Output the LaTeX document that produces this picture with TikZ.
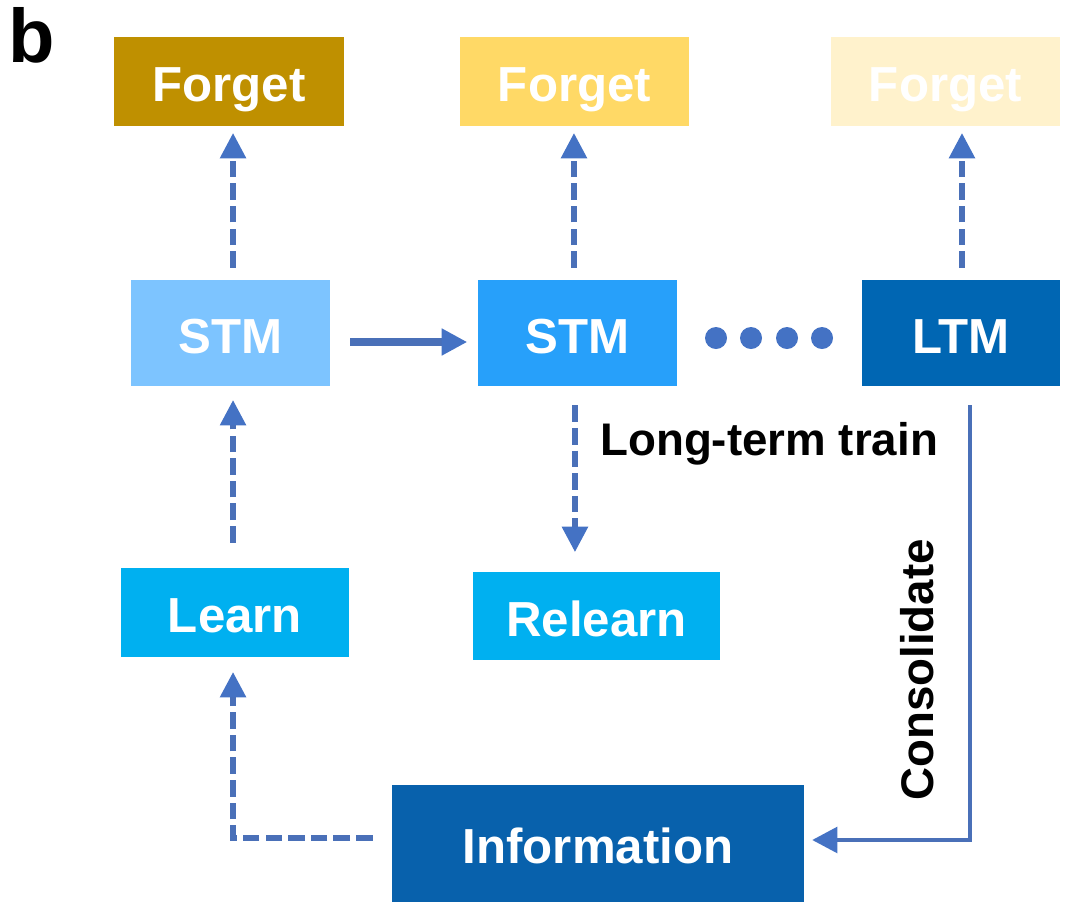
\documentclass[tikz,border=0pt]{standalone}
\usepackage{fontspec}
\setmainfont{Liberation Sans}
\usetikzlibrary{arrows.meta,calc}
\definecolor{goldF}{HTML}{BF9000}
\definecolor{yellowF}{HTML}{FFD966}
\definecolor{creamF}{HTML}{FFF2CC}
\definecolor{skySTM}{HTML}{7DC4FF}
\definecolor{midSTM}{HTML}{27A0FA}
\definecolor{deepLTM}{HTML}{0066B3}
\definecolor{cyanL}{HTML}{00B0F0}
\definecolor{infoB}{HTML}{0861AC}
\definecolor{lineB}{HTML}{4A70B8}
\definecolor{headB}{HTML}{4472C4}
\begin{document}
\begin{tikzpicture}[x=0.025cm, y=-0.025cm,
    box/.style={inner sep=0pt, text=white, text height=28.6pt, text depth=0pt,
      font=\bfseries\fontsize{35}{40}\selectfont},
    lbl/.style={inner sep=0pt, font=\bfseries\fontsize{32.5}{38}\selectfont},
    dline/.style={draw=lineB, line width=4.4pt, dash pattern=on 11.8pt off 4.3pt,
      -{Triangle[length=17.8pt, width=19pt, fill=headB, line width=0pt]}},
    sline/.style={draw=lineB, line width=3.5pt,
      -{Triangle[length=17.8pt, width=19pt, fill=headB, line width=0pt]}}]
  \useasboundingbox (0,0) rectangle (1080,923);
  \node[inner sep=0pt, font=\bfseries\fontsize{54}{60}\selectfont] (tag) at (32,35) {b};
  % forget row
  \node[box, fill=goldF, minimum width=5.75cm, minimum height=2.225cm] (forgetA) at (229,81.5) {Forget};
  \node[box, fill=yellowF, minimum width=5.725cm, minimum height=2.225cm] (forgetB) at (574.5,81.5) {Forget};
  \node[box, fill=creamF, minimum width=5.725cm, minimum height=2.225cm] (forgetC) at (945.5,81.5) {Forget};
  % memory row
  \node[box, fill=skySTM, minimum width=4.975cm, minimum height=2.65cm] (stmA) at (230.5,333) {STM};
  \node[box, fill=midSTM, minimum width=4.975cm, minimum height=2.65cm] (stmB) at (577.5,333) {STM};
  \node[box, fill=deepLTM, minimum width=4.95cm, minimum height=2.65cm] (ltm) at (961,333) {LTM};
  \foreach \i/\x in {1/716, 2/751, 3/787, 4/822}
    \node[circle, fill=headB, inner sep=0pt, minimum size=0.55cm] (dot\i) at (\x,338) {};
  % learning row
  \node[box, fill=cyanL, minimum width=5.7cm, minimum height=2.225cm] (learn) at (235,612.5) {Learn};
  \node[box, fill=cyanL, minimum width=6.175cm, minimum height=2.2cm] (relearn) at (596.5,616) {Relearn};
  \node[box, fill=infoB, minimum width=10.3cm, minimum height=2.925cm] (info) at (598,843.5) {Information};
  % labels
  \node[lbl, anchor=base west] (train) at (600,455) {Long-term train};
  \node[lbl, rotate=90] (consol) at (917,670) {Consolidate};
  % connectors
  \draw[dline, shorten <=8.5pt, shorten >=5pt] ([xshift=1.8pt]stmA.north) -- ([xshift=1.8pt]stmA.north |- forgetA.south);
  \draw[dline, shorten <=8.5pt, shorten >=5pt] ([xshift=-2.5pt]stmB.north) -- ([xshift=-2.5pt]stmB.north |- forgetB.south);
  \draw[dline, shorten <=8.5pt, shorten >=5pt] ([xshift=0.7pt]ltm.north) -- ([xshift=0.7pt]ltm.north |- forgetC.south);
  \draw[sline, line width=5.7pt, -{Triangle[length=17.8pt, width=19.5pt, fill=headB, line width=0pt]}, shorten <=14.2pt, shorten >=7.8pt]
    ([yshift=-6.4pt]stmA.east) -- ([yshift=-6.4pt]stmB.west);
  \draw[dline, shorten <=13.5pt, shorten >=14.2pt] ([xshift=-1.8pt]stmB.south) -- ([xshift=-1.8pt]stmB.south |- relearn.north);
  \draw[dline, shorten <=17.8pt, shorten >=10pt] ([xshift=-1.4pt]learn.north) -- ([xshift=-1.4pt]learn.north |- stmA.south);
  \draw[dline, shorten <=13.5pt, shorten >=10.7pt] ([yshift=3.9pt]info.west) -| ([xshift=-1.4pt]learn.south);
  \draw[sline, shorten <=13.5pt, shorten >=5.7pt] ([xshift=6.4pt]ltm.south) |- ([yshift=2.5pt]info.east);
\end{tikzpicture}
\end{document}
